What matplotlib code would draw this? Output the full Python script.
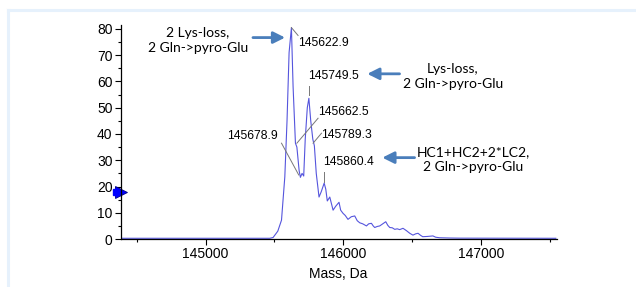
"""Deconvoluted mass spectrum with annotated glycoform peaks
"""
import matplotlib
matplotlib.use('Agg')
import matplotlib.pyplot as plt
import numpy as np
from matplotlib.lines import Line2D
from matplotlib.ticker import MultipleLocator

# spectrum (mass in Da, intensity)
mass = [144386, 145466, 145490, 145524, 145551, 145575, 145591, 145606, 145622.9,
        145635, 145652, 145662.5, 145678.9, 145688, 145700, 145712, 145723, 145738,
        145749.5, 145763, 145778, 145789.3, 145803, 145823, 145839, 145860.4, 145872,
        145883, 145901, 145925, 145944, 145968, 145980, 145997, 146013, 146033,
        146057, 146082, 146100, 146118, 146140, 146167, 146183, 146203, 146216,
        146227, 146245, 146263, 146285, 146307, 146322, 146336, 146354, 146372,
        146390, 146408, 146432, 146457, 146481, 146504, 146524, 146541, 146560,
        146575, 146609, 146649, 146669, 146698, 146770, 146843, 147540]
intensity = [0.3, 0.3, 0.6, 3.0, 7.2, 23.7, 45.0, 71.0, 80.5,
             58.0, 36.5, 35.0, 26.0, 23.5, 25.0, 24.0, 38.0, 50.0,
             53.6, 45.0, 38.0, 35.5, 25.0, 16.0, 18.0, 21.3, 19.0,
             14.5, 16.0, 11.0, 12.5, 14.0, 11.0, 9.8, 9.0, 7.5,
             8.5, 8.8, 7.0, 6.2, 5.8, 5.0, 5.8, 6.0, 5.0,
             4.4, 4.8, 5.0, 5.8, 6.6, 5.2, 4.4, 4.3, 3.7,
             3.9, 3.6, 4.1, 3.2, 2.2, 1.5, 2.0, 2.2, 1.4,
             0.9, 1.0, 1.2, 0.7, 0.5, 0.4, 0.35, 0.3]

# labelled peaks
peak_mass = [145622.9, 145749.5, 145662.5, 145789.3, 145678.9, 145860.4]

# assignments
notes = ["2 Lys-loss,\n2 Gln->pyro-Glu",
         "Lys-loss,\n2 Gln->pyro-Glu",
         "HC1+HC2+2*LC2,\n2 Gln->pyro-Glu"]
note_peak = [145622.9, 145749.5, 145860.4]

x_ticks = [145000, 146000, 147000]

plt.rcParams['font.family'] = ['Liberation Sans', 'DejaVu Sans']

fig = plt.figure(figsize=(6.36, 2.87), dpi=100)
ax = fig.add_axes([0.190, 0.167, 0.685, 0.746])

ax.plot(mass, intensity, color='#5555dd', lw=0.8)

ax.set_xlim(144386, 147545)
ax.set_ylim(0, 81.5)
ax.set_xticks(x_ticks)
ax.xaxis.set_minor_locator(MultipleLocator(500))
ax.yaxis.set_major_locator(MultipleLocator(10))
ax.yaxis.set_minor_locator(MultipleLocator(5))
ax.tick_params(axis='both', which='major', labelsize=10, length=4, width=0.8, pad=2)
ax.tick_params(axis='both', which='minor', length=2, width=0.8)
for side in ('top', 'right'):
    ax.spines[side].set_visible(False)
for side in ('left', 'bottom'):
    ax.spines[side].set_linewidth(0.9)
ax.set_xlabel('Mass, Da', fontsize=10, labelpad=4)

# peak labels: (text x, text y, alignment, leader start, leader end)
label_layout = [
    (145669, 74.7, 'left', (145622.9, 80.5), (145671, 77.5)),
    (145743, 62.1, 'left', (145749.5, 55.0), (145749.5, 58.3)),
    (145816, 48.5, 'left', (145662.5, 36.5), (145816, 46.0)),
    (145841, 39.6, 'left', (145780, 36.5), (145841, 40.3)),
    (145526, 39.2, 'right', (145551, 36.5), (145676, 24.4)),
    (145852, 29.4, 'left', (145860.4, 21.9), (145860.4, 25.6)),
]
for pm, (tx, ty, ha, p0, p1) in zip(peak_mass, label_layout):
    ax.text(tx, ty, f'{pm:.1f}', fontsize=8.7, ha=ha, va='center')
    ax.add_line(Line2D([p0[0], p1[0]], [p0[1], p1[1]], color='#777777', lw=0.7))

# assignment notes with arrows: (text x, text y, arrow tail, arrow head)
note_layout = [
    (144946, 75.5, (145344, 76.7), (145577, 76.7)),
    (146794, 62.0, (146407, 62.9), (146173, 62.9)),
    (146939, 30.1, (146516, 31.0), (146282, 31.0)),
]
for txt, (tx, ty, tail, head) in zip(notes, note_layout):
    ax.text(tx, ty, txt, fontsize=10, ha='center', va='center',
            family=['Lato', 'DejaVu Sans'], linespacing=1.3)
    ax.annotate('', xy=head, xytext=tail,
                arrowprops=dict(arrowstyle='-|>,head_length=0.7,head_width=0.35',
                                color='#4a7ebb', lw=2.0, shrinkA=0, shrinkB=0))

# threshold marker on the y axis
ax.plot([0], [18], marker='>', markersize=9, color='#0000ff', mec='#000088',
        mew=0.6, transform=ax.get_yaxis_transform(), clip_on=False)
ax.plot([-0.012], [18], marker='s', markersize=5, color='#0000ff',
        transform=ax.get_yaxis_transform(), clip_on=False)

# light frame of the panel
fig.add_artist(Line2D([7.5 / 636, 7.5 / 636], [0, 1 - 10 / 287], color='#e6f1fc', lw=2.2))
fig.add_artist(Line2D([7.5 / 636, 1], [1 - 10 / 287, 1 - 10 / 287], color='#e6f1fc', lw=2.2))

fig.savefig('out.png', dpi=100)
